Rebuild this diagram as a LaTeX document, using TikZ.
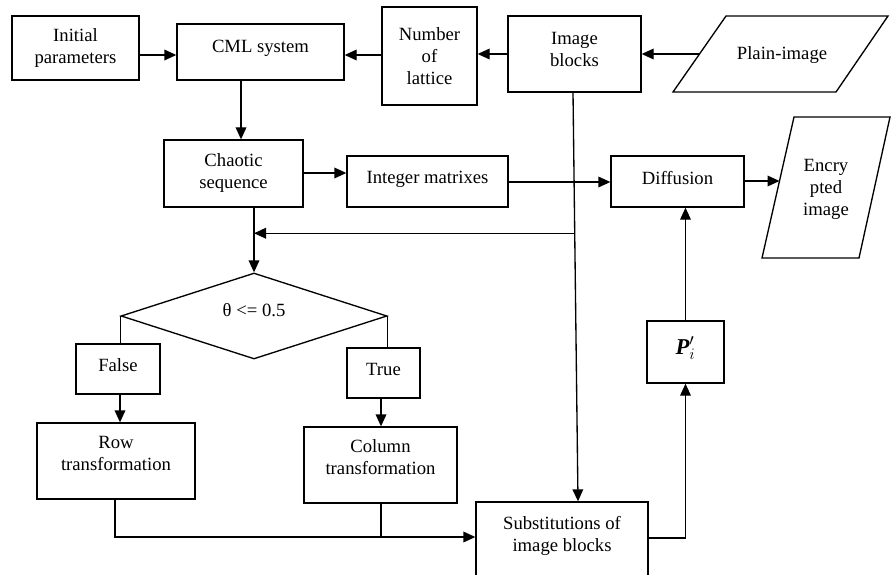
\documentclass[tikz,border=0pt]{standalone}
\usepackage{fontspec}
\setmainfont{Liberation Serif}
\usetikzlibrary{arrows.meta,shapes.geometric,calc}
\newcommand{\lift}[2]{\begin{tabular}{@{}c@{}}#2\\[#1]\end{tabular}}
\begin{document}
\begin{tikzpicture}[x=0.75pt,y=-0.75pt, line width=1pt,
  font=\fontsize{14}{16.5}\selectfont,
  >={Triangle[length=9pt,width=8pt]},
  box/.style={draw, inner sep=0pt, align=center},
  sz/.style 2 args={minimum width=#1*0.75pt, minimum height=#2*0.75pt},
  para/.style={draw, line join=miter}]
\useasboundingbox (0,0) rectangle (891,574);
\clip (0,0) rectangle (891,574);
% helper coordinates
\coordinate (y54) at (0,54);
\coordinate (y55) at (0,55);
\coordinate (y173) at (0,173);
\coordinate (y182) at (0,182);
\coordinate (y537) at (0,537);
\coordinate (y538) at (0,538);
\coordinate (x115) at (115,0);
\coordinate (x120) at (120,0);
\coordinate (x241) at (241,0);
\coordinate (x254) at (254,0);
\coordinate (x381) at (381,0);
\coordinate (x573) at (573,0);
\coordinate (x578) at (578,0);
% nodes
\node[box, sz={127}{64}] (init) at (75.5,48) {Initial\\parameters};
\node[box, sz={167}{56}] (cml) at (260.5,52) {\lift{6pt}{CML system}};
\node[box, sz={95}{98}] (lat) at (429.5,56) {Number\\of\\lattice};
\node[box, sz={133}{76}] (blk) at (574.5,54) {\lift{5pt}{Image\\blocks}};
\draw[para] (726,16) -- (888,16) -- (836,92) -- (673,92) -- cycle;
\node (plain) at (782,55) {Plain-image};
\coordinate (plainL) at (699,54);
\node[box, sz={139}{67}] (chaos) at (233.5,173.5) {Chaotic\\sequence};
\node[box, sz={161}{51}] (int) at (427.5,181.5) {\lift{3pt}{Integer matrixes}};
\node[box, sz={133}{51}] (diff) at (677.5,181.5) {\lift{2pt}{Diffusion}};
\draw[para] (794,117) -- (890,117) -- (859,258) -- (762,258) -- cycle;
\node[align=center] (enc) at (826,189) {Encry\\pted\\image};
\coordinate (encL) at (779.5,181);
\node[box, sz={77}{62}, font=\fontsize{17}{20}\selectfont] (p) at (685.5,352) {\lift{5pt}{{\bfseries\itshape P}$'_{i}$}};
\node[draw, diamond, aspect=3.09, minimum width=199.5pt, minimum height=64.5pt, inner sep=0pt] (dec) at (254,316) {\lift{6pt}{θ <= 0.5}};
\node[box, sz={84}{50}] (f) at (118,369) {\lift{3pt}{False}};
\node[box, sz={73}{50}] (t) at (383.5,373) {\lift{3pt}{True}};
\node[box, sz={158}{76}] (row) at (116,461) {\lift{9pt}{Row\\transformation}};
\node[box, sz={153}{76}] (col) at (380.5,465) {\lift{9pt}{Column\\transformation}};
\node[box, sz={172}{78}] (sub) at (562,541) {\lift{7pt}{Substitutions of\\image blocks}};
% connectors
\draw[->] (init.east |- y55) -- (cml.west |- y55);
\draw[->] (lat.west |- y55) -- (cml.east |- y55);
\draw[->] (blk.west |- y54) -- (lat.east |- y54);
\draw[->] (plainL) -- (blk.east |- plainL);
\draw[->] (cml.south -| x241) -- (chaos.north -| x241);
\draw[->] (chaos.east |- y173) -- (int.west |- y173);
\draw[->] (int.east |- y182) -- (diff.west |- y182);
\draw[->] (diff.east |- encL) -- (encL);
\draw[->] (blk.south -| x573) -- (sub.north -| x578);
\coordinate (fb) at ($(blk.south -| x573)!0.344!(sub.north -| x578)$);
\draw[->] (fb) -- (x254 |- fb);
\draw[->] (chaos.south -| x254) -- (dec.north);
\draw (dec.west) -- (f.north -| dec.west);
\draw (dec.east) -- (t.north -| dec.east);
\draw[->] (f.south -| x120) -- (row.north -| x120);
\draw[->] (t.south -| x381) -- (col.north -| x381);
\draw[->] (row.south -| x115) -- (x115 |- y537) -- (sub.west |- y537);
\draw (col.south -| x381) -- (x381 |- y537);
\draw[->] (sub.east |- y538) -| (p.south);
\draw[->] (p.north) -- (diff.south -| p.north);
\end{tikzpicture}
\end{document}
